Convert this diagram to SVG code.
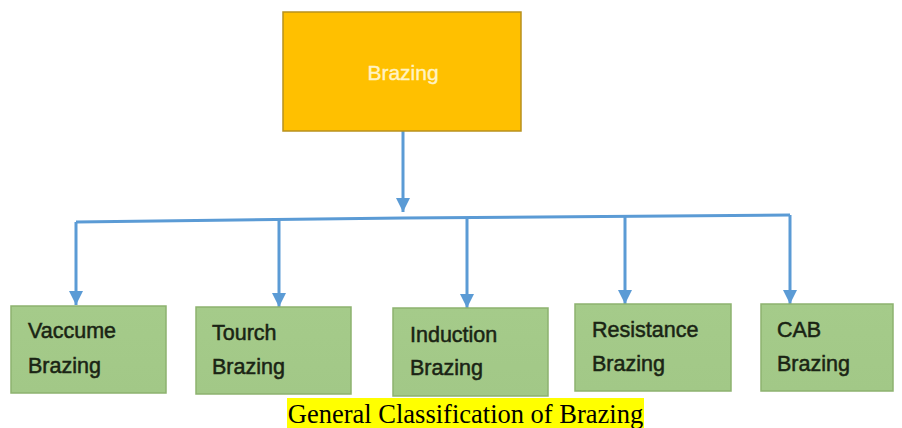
<svg xmlns="http://www.w3.org/2000/svg" width="902" height="428" viewBox="0 0 902 428">
<style>
.leaf{fill:url(#g);stroke:#8DB26F;stroke-width:1.5}
.lt{font-family:"Liberation Sans",Arial,sans-serif;font-size:21.5px;fill:#1A2414;stroke:#1A2414;stroke-width:0.5}
.con{stroke:#5B9BD5;stroke-width:3;fill:none}
</style>
<defs>
<linearGradient id="g" x1="0" y1="0" x2="0" y2="1">
<stop offset="0" stop-color="#A5CB8A"/>
<stop offset="1" stop-color="#A2C887"/>
</linearGradient>
<marker id="ah" markerWidth="14" markerHeight="14" refX="10" refY="5" orient="auto" markerUnits="userSpaceOnUse" viewBox="0 0 10 10">
<path d="M0,0 L10,5 L0,10 z" fill="#5B9BD5"/>
</marker>
</defs>
<rect width="902" height="428" fill="#FFFFFF"/>
<g id="connectors">
<line class="con" x1="403" y1="131" x2="403" y2="212" marker-end="url(#ah)"/>
<polyline class="con" points="76,222 403,218 790,215"/>
<line class="con" x1="76" y1="222" x2="76" y2="305" marker-end="url(#ah)"/>
<line class="con" x1="279" y1="220" x2="279" y2="307" marker-end="url(#ah)"/>
<line class="con" x1="467" y1="218" x2="467" y2="308" marker-end="url(#ah)"/>
<line class="con" x1="625" y1="217" x2="625" y2="304" marker-end="url(#ah)"/>
<line class="con" x1="790" y1="215" x2="790" y2="304" marker-end="url(#ah)"/>
</g>
<g id="brazing">
<rect x="283" y="12" width="238" height="119" fill="#FFC000" stroke="#B8911E" stroke-width="1.5"/>
<text x="403" y="80" text-anchor="middle" font-family="'Liberation Sans',Arial,sans-serif" font-size="21" fill="#FFF3C4" stroke="#FFF3C4" stroke-width="0.4">Brazing</text>
</g>
<g id="vaccume">
<rect class="leaf" x="11" y="306" width="155" height="87"/>
<text class="lt" x="28" y="338">Vaccume</text>
<text class="lt" x="28" y="373">Brazing</text>
</g>
<g id="tourch">
<rect class="leaf" x="196" y="307" width="155" height="87"/>
<text class="lt" x="212" y="340">Tourch</text>
<text class="lt" x="212" y="374">Brazing</text>
</g>
<g id="induction">
<rect class="leaf" x="393" y="308" width="155" height="88"/>
<text class="lt" x="410" y="342">Induction</text>
<text class="lt" x="410" y="375">Brazing</text>
</g>
<g id="resistance">
<rect class="leaf" x="575" y="304" width="156" height="87"/>
<text class="lt" x="592" y="337">Resistance</text>
<text class="lt" x="592" y="371">Brazing</text>
</g>
<g id="cab">
<rect class="leaf" x="761" y="304" width="132" height="87"/>
<text class="lt" x="777" y="337">CAB</text>
<text class="lt" x="777" y="371">Brazing</text>
</g>
<g id="caption">
<rect x="287" y="398" width="357" height="30" fill="#FFFF00"/>
<text x="465.5" y="423" text-anchor="middle" font-family="'Liberation Serif','Times New Roman',serif" font-size="26.5" fill="#000000">General Classification of Brazing</text>
</g>
</svg>
